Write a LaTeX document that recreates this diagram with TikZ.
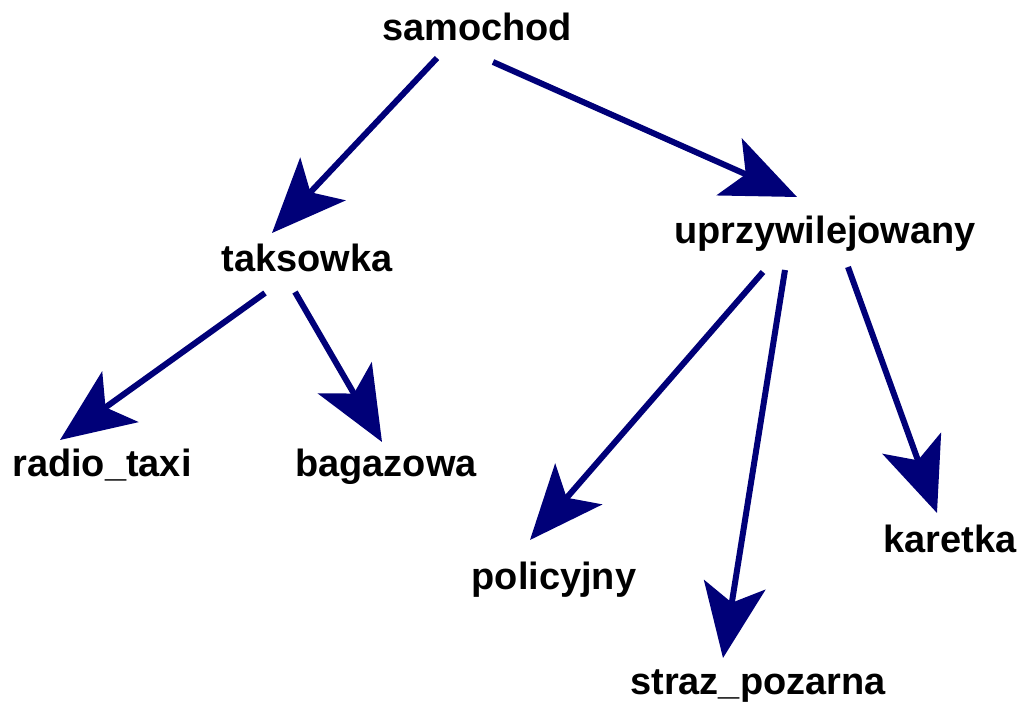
\documentclass[tikz,border=0pt]{standalone}
\usepackage{fontspec}
\setmainfont{Liberation Sans}
\usetikzlibrary{arrows.meta}
\definecolor{arrowblue}{RGB}{0,0,120}
\begin{document}
\begin{tikzpicture}[
    word/.style={anchor=base, inner sep=0pt, font=\fontsize{10.8}{13}\selectfont\bfseries},
    arrow/.style={-{Stealth[length=7.4mm, width=6.2mm, inset=1.8mm]}, line width=0.6mm, draw=arrowblue}
]
    \useasboundingbox (0,0) rectangle (10.21,7.07);

    \node[word] (samochod) at (4.77,6.66) {samochod};
    \node[word] (taksowka) at (3.07,4.35) {taksowka};
    \node[word] (uprzywilejowany) at (8.25,4.63) {uprzywilejowany};
    \node[word] (radiotaxi) at (1.02,2.30) {radio\_taxi};
    \node[word] (bagazowa) at (3.86,2.30) {bagazowa};
    \node[word] (policyjny) at (5.54,1.17) {policyjny};
    \node[word] (straz) at (7.58,0.12) {straz\_pozarna};
    \node[word] (karetka) at (9.50,1.54) {karetka};

    \draw[arrow] ([shift={(-0.40,-0.17)}]samochod.base) -- ([shift={(-0.35,0.39)}]taksowka.base);
    \draw[arrow] ([shift={(0.16,-0.21)}]samochod.base) -- ([shift={(-0.28,0.47)}]uprzywilejowany.base);
    \draw[arrow] ([shift={(-0.42,-0.21)}]taksowka.base) -- ([shift={(-0.42,0.37)}]radiotaxi.base);
    \draw[arrow] ([shift={(-0.12,-0.20)}]taksowka.base) -- ([shift={(-0.04,0.35)}]bagazowa.base);
    \draw[arrow] ([shift={(-0.62,-0.28)}]uprzywilejowany.base) -- ([shift={(-0.24,0.50)}]policyjny.base);
    \draw[arrow] ([shift={(-0.40,-0.26)}]uprzywilejowany.base) -- ([shift={(-0.35,0.37)}]straz.base);
    \draw[arrow] ([shift={(0.23,-0.23)}]uprzywilejowany.base) -- ([shift={(-0.13,0.40)}]karetka.base);
\end{tikzpicture}
\end{document}
